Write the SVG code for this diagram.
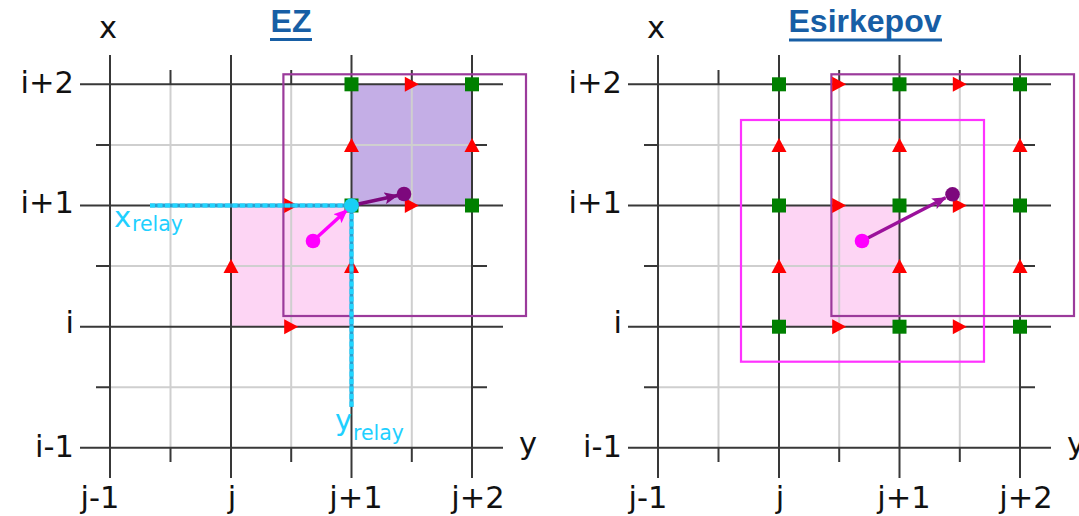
<svg xmlns="http://www.w3.org/2000/svg" xmlns:xlink="http://www.w3.org/1999/xlink" width="1079" height="516" viewBox="0 0 1079 516">
<style>
.maj{stroke:#383838;stroke-width:2;fill:none}
.min{stroke:#cfcfcf;stroke-width:2;fill:none}
.lab{font-family:"DejaVu Sans",sans-serif;font-size:30.5px;fill:#111}
.ttl{font-family:"Liberation Sans",Arial,sans-serif;font-size:32px;font-weight:bold;fill:#175ea5}
.cy{font-family:"DejaVu Sans",sans-serif;fill:#1fd0ff}
.box{fill:none;stroke-width:2.2}
</style>
<defs>
<path id="tr" d="M7,0 L-7,7.5 L-7,-7.5 Z" fill="#ff0000"/>
<path id="tu" d="M0,-7 L7.5,7 L-7.5,7 Z" fill="#ff0000"/>
<rect id="sq" x="-7" y="-7" width="14" height="14" fill="#008000"/>
<marker id="ahM" viewBox="0 0 14 12" refX="13" refY="6" markerWidth="14" markerHeight="12" markerUnits="userSpaceOnUse" orient="auto"><path d="M0,0 L14,6 L0,12 L3,6 Z" fill="#ff00ff"/></marker>
<marker id="ahP" viewBox="0 0 14 12" refX="13" refY="6" markerWidth="14" markerHeight="12" markerUnits="userSpaceOnUse" orient="auto"><path d="M0,0 L14,6 L0,12 L3,6 Z" fill="#7d087d"/></marker>
<marker id="ahR" viewBox="0 0 14 12" refX="13" refY="6" markerWidth="14" markerHeight="12" markerUnits="userSpaceOnUse" orient="auto"><path d="M0,0 L14,6 L0,12 L3,6 Z" fill="#9b119b"/></marker>
<g id="grid">
<path class="min" d="M170.5,84V448 M291.2,84V448 M411.8,84V448 M110,145H472 M110,266H472 M110,387.2H472"/>
<path class="maj" d="M170.5,70V84 M291.2,70V84 M411.8,70V84 M170.5,448V462 M291.2,448V462 M411.8,448V462 M96,145H110 M96,266H110 M96,387.2H110 M472,145H487 M472,266H487 M472,387.2H487"/>
<path class="maj" d="M110,55V478 M231,55V478 M351.5,55V478 M472,55V478 M80,84.3H503 M80,205.5H503 M80,326.7H503 M80,447.8H503"/>
</g>
<g id="labels">
<text class="lab" x="99" y="38">x</text>
<text class="lab" x="74" y="93" text-anchor="end">i+2</text>
<text class="lab" x="74" y="213" text-anchor="end">i+1</text>
<text class="lab" x="74" y="333" text-anchor="end">i</text>
<text class="lab" x="74" y="457" text-anchor="end">i-1</text>
<text class="lab" x="100" y="508" text-anchor="middle">j-1</text>
<text class="lab" x="232" y="508" text-anchor="middle">j</text>
<text class="lab" x="356" y="508" text-anchor="middle">j+1</text>
<text class="lab" x="478" y="508" text-anchor="middle">j+2</text>
<text class="lab" x="519" y="454">y</text>
</g>
</defs>

<g id="ez-panel">
<g id="ez-fills">
<rect x="231" y="205.5" width="120.5" height="121.2" fill="#fdd5f4"/>
<rect x="351.5" y="84.3" width="120.5" height="121.2" fill="#c4aee6"/>
</g>
<use href="#grid" xlink:href="#grid"/>
<use href="#labels" xlink:href="#labels"/>
<text class="ttl" x="291" y="32" text-anchor="middle">EZ</text>
<rect x="270" y="38" width="42" height="3" fill="#175ea5"/>
<rect id="ez-box" class="box" x="283.4" y="74.3" width="242.6" height="241.7" stroke="#9b3a9b"/>
<g id="ez-nodes">
<use href="#sq" xlink:href="#sq" x="351.5" y="84.3"/>
<use href="#sq" xlink:href="#sq" x="472" y="84.3"/>
<use href="#sq" xlink:href="#sq" x="351.5" y="205.5"/>
<use href="#sq" xlink:href="#sq" x="472" y="205.5"/>
</g>
<g id="ez-fields">
<use href="#tr" xlink:href="#tr" x="411.8" y="84.3"/>
<use href="#tr" xlink:href="#tr" x="411.8" y="205.5"/>
<use href="#tr" xlink:href="#tr" x="291.2" y="205.5"/>
<use href="#tr" xlink:href="#tr" x="291.2" y="326.7"/>
<use href="#tu" xlink:href="#tu" x="351.5" y="145"/>
<use href="#tu" xlink:href="#tu" x="472" y="145"/>
<use href="#tu" xlink:href="#tu" x="231" y="266"/>
<use href="#tu" xlink:href="#tu" x="351.5" y="266"/>
</g>
<g id="ez-relay">
<path d="M150,205.5H351.5V407" fill="none" stroke="#2a9fcf" stroke-width="4"/>
<path d="M150,205.5H351.5V407" fill="none" stroke="#22d6ff" stroke-width="4" stroke-dasharray="5 2.5"/>
<text class="cy" x="114" y="226.7" font-size="29">x</text>
<text class="cy" x="132" y="230.5" font-size="20.5">relay</text>
<text class="cy" x="335" y="430" font-size="29">y</text>
<text class="cy" x="353" y="440" font-size="20.5">relay</text>
</g>
<g id="ez-connectors">
<line x1="313" y1="241" x2="347" y2="210" stroke="#ff00ff" stroke-width="3.5" marker-end="url(#ahM)"/>
<line x1="351.5" y1="205.5" x2="397.5" y2="195.5" stroke="#7d087d" stroke-width="3.5" marker-end="url(#ahP)"/>
</g>
<g id="ez-particles">
<circle cx="313" cy="241" r="7.3" fill="#ff00ff"/>
<circle cx="351.5" cy="205.5" r="7.3" fill="#18cff5"/>
<circle cx="404" cy="194" r="7.3" fill="#7d087d"/>
</g>
</g>

<g id="esirkepov-panel">
<rect x="779" y="205.5" width="120.5" height="121.2" fill="#fdd5f4"/>
<g transform="translate(548,0)">
<use href="#grid" xlink:href="#grid"/>
<use href="#labels" xlink:href="#labels"/>
</g>
<text class="ttl" x="865" y="32" text-anchor="middle">Esirkepov</text>
<rect x="789" y="38.5" width="153" height="3" fill="#175ea5"/>
<rect id="es-box-magenta" class="box" x="741" y="120" width="243" height="241.7" stroke="#ff33ff"/>
<rect id="es-box-purple" class="box" x="831.4" y="74.3" width="242.6" height="241.7" stroke="#9b3a9b"/>
<g id="es-nodes">
<use href="#sq" xlink:href="#sq" x="779" y="84.3"/>
<use href="#sq" xlink:href="#sq" x="899.5" y="84.3"/>
<use href="#sq" xlink:href="#sq" x="1020" y="84.3"/>
<use href="#sq" xlink:href="#sq" x="779" y="205.5"/>
<use href="#sq" xlink:href="#sq" x="899.5" y="205.5"/>
<use href="#sq" xlink:href="#sq" x="1020" y="205.5"/>
<use href="#sq" xlink:href="#sq" x="779" y="326.7"/>
<use href="#sq" xlink:href="#sq" x="899.5" y="326.7"/>
<use href="#sq" xlink:href="#sq" x="1020" y="326.7"/>
</g>
<g id="es-fields">
<use href="#tr" xlink:href="#tr" x="839.2" y="84.3"/>
<use href="#tr" xlink:href="#tr" x="959.8" y="84.3"/>
<use href="#tr" xlink:href="#tr" x="839.2" y="205.5"/>
<use href="#tr" xlink:href="#tr" x="959.8" y="205.5"/>
<use href="#tr" xlink:href="#tr" x="839.2" y="326.7"/>
<use href="#tr" xlink:href="#tr" x="959.8" y="326.7"/>
<use href="#tu" xlink:href="#tu" x="779" y="145"/>
<use href="#tu" xlink:href="#tu" x="899.5" y="145"/>
<use href="#tu" xlink:href="#tu" x="1020" y="145"/>
<use href="#tu" xlink:href="#tu" x="779" y="266"/>
<use href="#tu" xlink:href="#tu" x="899.5" y="266"/>
<use href="#tu" xlink:href="#tu" x="1020" y="266"/>
</g>
<g id="es-connectors">
<line x1="862" y1="241" x2="945.5" y2="197.8" stroke="#9b119b" stroke-width="3.5" marker-end="url(#ahR)"/>
</g>
<g id="es-particles">
<circle cx="862" cy="241" r="7.3" fill="#ff00ff"/>
<circle cx="952.5" cy="194.3" r="7.3" fill="#7d087d"/>
</g>
</g>
</svg>
